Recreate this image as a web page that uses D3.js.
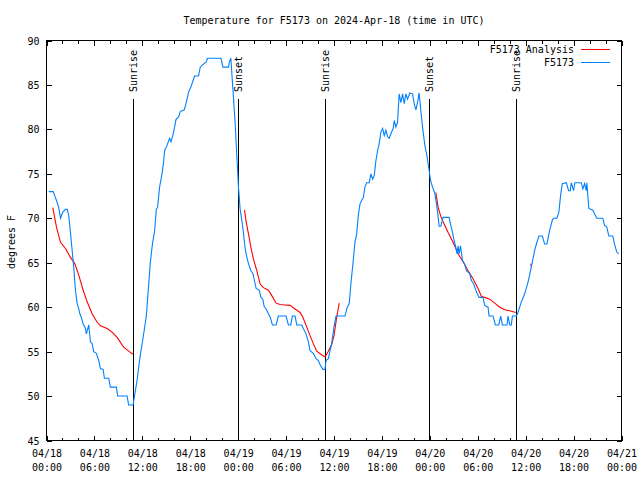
<!DOCTYPE html>
<html>
<head>
<meta charset="utf-8">
<script src="https://cdn.jsdelivr.net/npm/d3@7"></script>
<style>
html,body{margin:0;padding:0;background:#fff;}
svg{display:block;}
text{font-family:"DejaVu Sans Mono","Liberation Mono",monospace;font-size:10px;fill:#000;}
</style>
</head>
<body>
<svg id="chart" width="640" height="480"></svg>
<script>
// ---- data (hours since 2024-04-18 00:00 UTC, degrees F) ----
const titleText = "Temperature for F5173 on 2024-Apr-18 (time in UTC)";
const yLabelText = "degrees F";
const yTicks = [45, 50, 55, 60, 65, 70, 75, 80, 85, 90];
const seriesNames = ["F5173 Analysis", "F5173"];

const obsSeries = [
 [0.29,73],[0.84,73],[1.0,72.6],[1.25,72],[1.54,71.2],[1.75,70],[2.04,70.7],[2.375,71],[2.59,71],[2.79,70.3],
 [3.0,68.4],[3.21,66.4],[3.41,64.5],[3.625,61.9],[3.84,60.4],[4.04,59.8],[4.16,59.3],[4.34,58.9],[4.59,58.1],[4.84,57.7],
 [5.0,57],[5.29,58],[5.5,56.1],[5.71,55.9],[5.91,55],[6.25,54.8],[6.54,54],[6.75,53.1],[7.09,53],[7.25,52],
 [7.79,52],[8.0,51],[8.75,51],[8.91,50],[10.09,50],[10.29,49],[10.84,49],[11.0,49.9],[11.34,51.75],[11.66,54.1],
 [12.0,56],[12.5,59],[12.75,62],[13.0,65],[13.25,67],[13.54,68.6],[13.75,71],[13.91,71.25],[14.16,73.5],[14.46,75],
 [14.66,76.3],[14.79,77.6],[15.09,78.2],[15.41,79],[15.59,78.6],[15.84,79.4],[16.04,80.25],[16.21,81.1],[16.54,81.4],[16.75,82],
 [17.25,82.2],[17.5,83],[17.79,84.2],[18.09,84.8],[18.54,86],[19.04,86],[19.25,87],[19.46,87.2],[20.0,87.6],[20.16,88],
 [21.84,88],[22.09,87],[22.79,87],[22.91,87.6],[23.09,88],[23.21,86.25],[23.41,83.6],[23.625,80.6],[23.84,76.9],[24.04,73.5],
 [24.25,71],[24.46,69.75],[24.66,68.4],[24.875,66.6],[25.09,65.6],[25.29,64.9],[25.59,64.1],[25.84,63.8],[26.04,63],[26.25,62.1],
 [26.66,61.9],[26.84,61.1],[27.09,60.9],[27.25,60.1],[27.5,59.8],[27.79,59.25],[28.0,58.9],[28.29,58],[28.75,58],[29.04,59],
 [30.0,59],[30.29,58],[30.59,58],[30.79,59],[31.125,59],[31.34,58],[31.96,58],[32.16,57.6],[32.5,57],[32.79,56.1],
 [33.0,55.1],[33.41,54.8],[33.75,54.2],[34.04,54],[34.25,53.55],[34.59,53],[34.875,53],[35.0,54],[35.29,54.2],[35.71,55.9],
 [36.0,57.75],[36.25,59],[37.375,59],[37.66,60],[37.91,60.4],[38.1,62.5],[38.41,65.25],[38.625,67.3],[38.84,68.25],[39.04,70.3],
 [39.25,71.6],[39.46,72],[39.66,72.3],[39.875,73.5],[40.09,74],[40.41,74],[40.625,75],[40.84,74.4],[41.04,74.8],[41.25,76.5],
 [41.46,77.6],[41.66,78.4],[41.875,79.7],[42.09,80.1],[42.29,79.3],[42.5,79.9],[42.71,79.2],[42.91,79],[43.21,79.7],[43.41,80.1],
 [43.54,81],[43.75,80.25],[43.96,80.8],[44.16,84],[44.375,83],[44.59,84],[44.79,82.9],[45.0,84],[45.21,83.4],[45.5,84.1],
 [45.84,84],[46.04,82.9],[46.25,82.2],[46.46,83],[46.66,84.1],[46.875,82.1],[47.09,80.25],[47.375,78.2],[47.66,76.9],[47.91,75.4],
 [48.09,74.25],[48.34,73.5],[48.5,73.1],[48.6,72.9],[48.84,71.6],[49.0,70.5],[49.16,69.1],[49.375,69.1],[49.66,70.1],[50.41,70.1],
 [50.625,69.2],[50.84,68.4],[51.04,67.5],[51.25,66.75],[51.41,66],[51.54,66.9],[51.66,66],[51.84,66.9],[52.09,65.25],[52.34,64.9],
 [52.59,64.1],[53.0,63.75],[53.2,63],[53.5,62.6],[53.84,61.7],[54.16,61.1],[54.66,61.1],[54.875,60.2],[55.29,60],[55.41,59],
 [55.91,59],[56.21,58],[56.625,58],[56.875,59],[57.09,58],[57.66,58],[57.79,59],[58.0,58],[58.2,58],[58.34,59],
 [58.84,59],[59.04,59.4],[59.46,60.6],[59.875,61.5],[60.29,62.8],[60.71,64.5],[61.125,66.4],[61.41,67.3],[61.66,68],[62.09,68],
 [62.375,67.1],[62.66,67.1],[63.0,68.6],[63.34,69.8],[63.5,70],[63.91,70],[64.16,70.7],[64.375,72.6],[64.59,73.9],[65.09,74],
 [65.375,73.1],[65.59,73.1],[65.71,74],[66.0,73.1],[66.16,74],[66.96,74],[67.16,73.3],[67.375,73.9],[67.59,73.1],[67.66,74],
 [67.91,71.1],[68.41,70.9],[68.625,70.5],[68.91,70],[69.66,70],[69.875,69.2],[70.16,69],[70.41,68],[70.91,68],[71.125,67.1],
 [71.41,66.2],[71.66,66]
];

const analysisNight1 = [
 [0.79,71.2],[1.25,69],[1.75,67.3],[2.375,66.6],[3.0,65.6],[3.54,64.9],[4.04,63.6],[4.59,61.9],[5.09,60.6],[5.71,59.25],
 [6.34,58.3],[6.75,57.9],[7.59,57.6],[8.21,57.2],[8.84,56.6],[9.66,55.5],[10.29,55.05],[10.84,54.7]
];
const analysisNight2 = [
 [24.79,70.95],[25.0,69.6],[25.29,68.25],[25.59,66.75],[25.91,65.4],[26.34,64.1],[26.75,62.6],[27.16,62.2],[27.79,61.9],[28.21,61.3],
 [28.75,60.45],[29.25,60.3],[29.875,60.25],[30.5,60.2],[31.125,59.8],[31.75,59.4],[32.09,58.9],[32.59,57.75],[33.0,56.8],[33.41,55.9],
 [33.84,55.05],[34.34,54.7],[34.875,54.4],[35.29,55.05],[35.71,55.8],[36.0,56.8],[36.34,58.9],[36.66,60.45]
];
const analysisNight3 = [
 [48.75,72.9],[49.04,71.25],[49.34,70.3],[49.66,69.6],[50.29,68.4],[50.91,67.3],[51.54,66],[52.16,65.1],[52.79,64.1],[53.41,63.2],
 [54.04,62.1],[54.46,61.2],[54.875,61.1],[55.5,60.9],[56.125,60.45],[56.75,60],[57.375,59.7],[58.0,59.6],[58.75,59.4]
];
const analysisDay3 = [[60.64,64.9],[60.72,64.5]];

const sunEventHours = [10.875, 24.03, 34.9, 47.91, 58.8];
const sunEventLabels = ["Sunrise", "Sunset", "Sunrise", "Sunset", "Sunrise"];

const colors = {analysis: "#ff0000", obs: "#0080ff"};

// ---- chart ----
const t0 = Date.UTC(2024, 3, 18, 0, 0);
const toDate = h => new Date(t0 + h * 3600000);

const svg = d3.select("#chart");
const x = d3.scaleUtc().domain([toDate(0), toDate(72)]).range([46.5, 621.5]);
const y = d3.scaleLinear().domain([45, 90]).range([440.5, 40.5]);

// frame
svg.append("rect").attr("x", 46.5).attr("y", 40.5).attr("width", 575).attr("height", 400)
  .attr("fill", "none").attr("stroke", "#000").attr("shape-rendering", "crispEdges");

// x axis ticks (major every 6 h, minor every 2 h), bottom & top, inward
function xTicks(axisFn, ty, interval, size) {
  const g = svg.append("g").attr("transform", `translate(0,${ty})`)
    .call(axisFn(x).ticks(interval).tickSizeInner(-size).tickSizeOuter(0).tickFormat(""));
  g.select(".domain").remove();
  g.selectAll("line").attr("shape-rendering", "crispEdges");
  return g;
}
xTicks(d3.axisBottom, 440.5, d3.utcHour.every(2), 3);
xTicks(d3.axisBottom, 440.5, d3.utcHour.every(6), 5);
xTicks(d3.axisTop, 40.5, d3.utcHour.every(2), 3);
xTicks(d3.axisTop, 40.5, d3.utcHour.every(6), 5);

// x labels (two lines)
const fmtDay = d3.utcFormat("%m/%d"), fmtTime = d3.utcFormat("%H:%M");
const xl = svg.append("g").attr("transform", "translate(0,440.5)")
  .call(d3.axisBottom(x).ticks(d3.utcHour.every(6)).tickSize(0).tickPadding(0).tickFormat(""));
xl.select(".domain").remove();
xl.attr("font-family", null).attr("font-size", null);
xl.selectAll(".tick").each(function(d) {
  const t = d3.select(this).append("text").attr("text-anchor", "middle").attr("fill", "#000");
  t.append("tspan").attr("x", 0).attr("y", 16.5).text(fmtDay(d));
  t.append("tspan").attr("x", 0).attr("y", 30.5).text(fmtTime(d));
});

// y axis left & right
const yl = svg.append("g").attr("transform", "translate(46.5,0)")
  .call(d3.axisLeft(y).tickValues(yTicks).tickSizeInner(-5).tickSizeOuter(0).tickPadding(7).tickFormat(d3.format("d")));
yl.select(".domain").remove();
yl.selectAll("line").attr("shape-rendering", "crispEdges");
yl.selectAll("text").attr("dy", "0.35em");
yl.attr("font-family", null).attr("font-size", null);
const yr = svg.append("g").attr("transform", "translate(621.5,0)")
  .call(d3.axisRight(y).tickValues(yTicks).tickSizeInner(-5).tickSizeOuter(0).tickFormat(""));
yr.select(".domain").remove();
yr.selectAll("line").attr("shape-rendering", "crispEdges");

// sunrise / sunset markers
sunEventHours.forEach((h, i) => {
  const px = Math.round(x(toDate(h))) + 0.5;
  svg.append("line").attr("x1", px).attr("x2", px).attr("y1", 99).attr("y2", 440.5)
    .attr("stroke", "#000").attr("shape-rendering", "crispEdges");
  svg.append("text").attr("transform", `translate(${px + 3.5},92) rotate(-90)`)
    .attr("text-anchor", "start").text(sunEventLabels[i]);
});

// lines
const line = d3.line().x(d => x(toDate(d[0]))).y(d => y(d[1]));
[analysisNight1, analysisNight2, analysisNight3, analysisDay3].forEach(s => {
  svg.append("path").datum(s).attr("d", line).attr("fill", "none")
    .attr("stroke", colors.analysis).attr("stroke-width", 1.1);
});
svg.append("path").datum(obsSeries).attr("d", line).attr("fill", "none")
  .attr("stroke", colors.obs).attr("stroke-width", 1.1);

// title and y label
svg.append("text").attr("x", 334).attr("y", 23.5).attr("text-anchor", "middle").text(titleText);
svg.append("text").attr("transform", "translate(15,242) rotate(-90)").attr("text-anchor", "middle").text(yLabelText);

// legend
const legend = [{name: seriesNames[0], color: colors.analysis, yy: 49.5}, {name: seriesNames[1], color: colors.obs, yy: 62.5}];
legend.forEach(l => {
  svg.append("text").attr("x", 574).attr("y", l.yy).attr("dy", "0.35em").attr("text-anchor", "end").text(l.name);
  svg.append("line").attr("x1", 581).attr("x2", 610).attr("y1", l.yy).attr("y2", l.yy)
    .attr("stroke", l.color).attr("shape-rendering", "crispEdges");
});
</script>
</body>
</html>
